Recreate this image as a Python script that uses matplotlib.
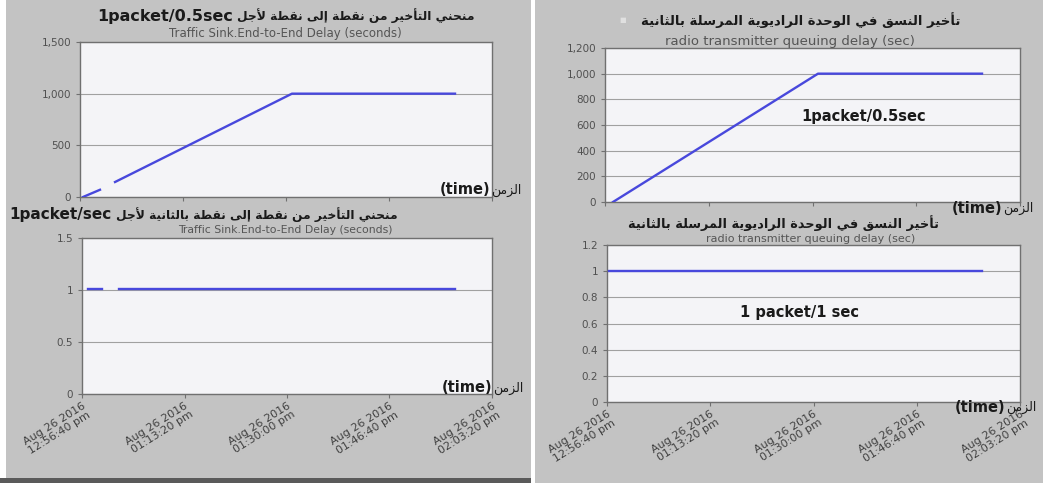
import numpy as np
import matplotlib
matplotlib.use("Agg")
import matplotlib.pyplot as plt
import matplotlib.dates as mdates
from matplotlib.patches import Rectangle
from matplotlib.ticker import FuncFormatter
from datetime import datetime

plt.rcParams["font.family"] = ["DejaVu Sans"]

W, H = 1043, 483


def t(s):
    return datetime.strptime("2016-08-26 " + s, "%Y-%m-%d %H:%M:%S")


# x ticks (same for all four charts)
tick_times = ["12:56:40", "13:13:20", "13:30:00", "13:46:40", "14:03:20"]
tick_labels = ["Aug 26 2016\n12:56:40 pm", "Aug 26 2016\n01:13:20 pm",
               "Aug 26 2016\n01:30:00 pm", "Aug 26 2016\n01:46:40 pm",
               "Aug 26 2016\n02:03:20 pm"]

# end-to-end delay, 1packet/0.5sec (nan = gap)
e2e_fast_t = ["12:57:09", "12:59:54", "13:01:00", "13:02:20", "13:30:58", "13:57:21"]
e2e_fast_v = [0, 70, np.nan, 145, 1000, 1000]
# end-to-end delay, 1packet/sec
e2e_slow_t = ["12:57:38", "12:59:54", "13:01:00", "13:02:39", "13:57:21"]
e2e_slow_v = [1.01, 1.01, np.nan, 1.01, 1.01]
# radio transmitter queuing delay, 1packet/0.5sec
radio_fast_t = ["12:57:57", "13:30:53", "13:57:14"]
radio_fast_v = [0, 1000, 1000]
# radio transmitter queuing delay, 1 packet/1 sec
radio_slow_t = ["12:56:59", "13:57:14"]
radio_slow_v = [1, 1]

# ---- tiny arabic shaper (matplotlib has no complex text layout) ----
DUAL = {"ب": 0xFE8F, "ت": 0xFE95, "ث": 0xFE99, "ج": 0xFE9D, "ح": 0xFEA1,
        "خ": 0xFEA5, "س": 0xFEB1, "ط": 0xFEC1, "ف": 0xFED1, "ق": 0xFED5,
        "ل": 0xFEDD, "م": 0xFEE1, "ن": 0xFEE5, "ه": 0xFEE9, "ي": 0xFEF1}
RIGHT = {"ا": 0xFE8D, "أ": 0xFE83, "إ": 0xFE87, "ة": 0xFE93, "د": 0xFEA9,
         "ر": 0xFEAD, "ز": 0xFEAF, "و": 0xFEED, "ى": 0xFEEF}
LAMALEF = {"ا": 0xFEFB, "أ": 0xFEF7, "إ": 0xFEF9}


def shape(word):
    toks = []
    i = 0
    while i < len(word):
        if word[i] == "ل" and i + 1 < len(word) and word[i + 1] in LAMALEF:
            toks.append(("LA", LAMALEF[word[i + 1]]))
            i += 2
        else:
            toks.append(word[i])
            i += 1
    out = []
    for k, c in enumerate(toks):
        prev = toks[k - 1] if k > 0 else None
        nxt = toks[k + 1] if k + 1 < len(toks) else None
        jp = isinstance(prev, str) and prev in DUAL
        if isinstance(c, tuple):
            out.append(chr(c[1] + jp))
        elif c in DUAL:
            jn = nxt is not None and (isinstance(nxt, tuple) or nxt in DUAL or nxt in RIGHT)
            out.append(chr(DUAL[c] + [[0, 2], [1, 3]][jp][jn]))
        elif c in RIGHT:
            out.append(chr(RIGHT[c] + jp))
        else:
            out.append(c)
    return "".join(out)


def ar(text):
    return " ".join(shape(w) for w in text.split(" "))[::-1]


fig = plt.figure(figsize=(W / 100, H / 100), dpi=100)
fig.patch.set_facecolor("white")

gray = "#c3c3c3"
fig.add_artist(Rectangle((6 / W, 3 / H), 525 / W, 1 - 3 / H, transform=fig.transFigure,
                         facecolor=gray, edgecolor="none", zorder=0))
fig.add_artist(Rectangle((0, 0), 531 / W, 5 / H, transform=fig.transFigure,
                         facecolor="#5a5a5a", edgecolor="none", zorder=0))
fig.add_artist(Rectangle((535 / W, 0), 508 / W, 1, transform=fig.transFigure,
                         facecolor=gray, edgecolor="none", zorder=0))


def px_axes(x0, y0, x1, y1):
    return fig.add_axes([x0 / W, 1 - y1 / H, (x1 - x0) / W, (y1 - y0) / H])


def ftext(x, y, s, **kw):
    fig.text(x / W, 1 - y / H, s, **kw)


def setup(ax, times, vals, yticks, show_x):
    ax.set_facecolor("#f4f4f7")
    ax.plot([t(s) for s in times], vals, color="#4848dc", lw=1.7, zorder=3)
    ax.set_ylim(yticks[0], yticks[-1])
    ax.set_yticks(yticks)
    ax.yaxis.set_major_formatter(FuncFormatter(lambda v, p: "{:,g}".format(v)))
    ax.grid(axis="y", color="#a0a0a0", lw=0.8)
    ax.set_axisbelow(True)
    ax.set_xlim(t(tick_times[0]), t(tick_times[-1]))
    ax.set_xticks([mdates.date2num(t(s)) for s in tick_times])
    if show_x:
        ax.set_xticklabels(tick_labels, rotation=32, ha="right", va="top",
                           rotation_mode="anchor", fontsize=8, color="#404040",
                           multialignment="center", linespacing=1.0)
        ax.tick_params(axis="x", pad=2)
    else:
        ax.set_xticklabels([])
        ax.tick_params(axis="x", length=0)
    ax.tick_params(axis="y", labelsize=7.5, labelcolor="#505050", length=3, color="#707070")
    ax.tick_params(axis="x", color="#707070", length=3)
    for sp in ax.spines.values():
        sp.set_color("#707070")
        sp.set_linewidth(1.0)


ax1 = px_axes(80, 42, 492, 197)
setup(ax1, e2e_fast_t, e2e_fast_v, [0, 500, 1000, 1500], False)
ax2 = px_axes(82, 238, 492, 394)
setup(ax2, e2e_slow_t, e2e_slow_v, [0, 0.5, 1, 1.5], True)
ax3 = px_axes(605, 48, 1020, 202)
setup(ax3, radio_fast_t, radio_fast_v, [0, 200, 400, 600, 800, 1000, 1200], False)
ax4 = px_axes(607, 245, 1020, 402)
setup(ax4, radio_slow_t, radio_slow_v, [0, 0.2, 0.4, 0.6, 0.8, 1, 1.2], True)

title_e2e_fast = "منحني التأخير من نقطة إلى نقطة لأجل"
title_e2e_slow = "منحني التأخير من نقطة إلى نقطة بالثانية لأجل"
title_radio = "تأخير النسق في الوحدة الراديوية المرسلة بالثانية"
sub_e2e = "Traffic Sink.End-to-End Delay (seconds)"
sub_radio = "radio transmitter queuing delay (sec)"
time_ar = "الزمن"

dark = "#1a1a1a"
sub_col = "#555555"
# left top titles
ftext(233, 16, "1packet/0.5sec", ha="right", va="center", fontsize=11.5,
      fontweight="bold", color=dark)
ftext(237, 16, ar(title_e2e_fast), ha="left", va="center", fontsize=8.8,
      fontweight="bold", color=dark)
ftext(285, 33, sub_e2e, ha="center", va="center", fontsize=8.5, color=sub_col)
# left bottom titles
ftext(112, 215, "1packet/sec", ha="right", va="center", fontsize=11,
      fontweight="bold", color=dark)
ftext(116, 215, ar(title_e2e_slow), ha="left", va="center", fontsize=8.8,
      fontweight="bold", color=dark)
ftext(285, 230, sub_e2e, ha="center", va="center", fontsize=7.8, color=sub_col)
# right titles
ftext(623, 20, "■", ha="center", va="center", fontsize=5, color="#e0e0e0")
ftext(801, 20, ar(title_radio), ha="center", va="center", fontsize=9.5,
      fontweight="bold", color=dark)
ftext(790, 42, sub_radio, ha="center", va="center", fontsize=9.5, color=sub_col)
ftext(783, 223, ar(title_radio), ha="center", va="center", fontsize=9.3,
      fontweight="bold", color=dark)
ftext(811, 238.5, sub_radio, ha="center", va="center", fontsize=8, color=sub_col)

# (time) axis captions
for x, y in [(490, 190), (492, 388), (1002, 208), (1005, 407)]:
    ftext(x, y, "(time)", ha="right", va="center", fontsize=10.5, fontweight="bold", color=dark)
    ftext(x + 1, y, ar(time_ar), ha="left", va="center", fontsize=9, color=dark)

# in-plot labels
ftext(864, 117, "1packet/0.5sec", ha="center", va="center", fontsize=10.5,
      fontweight="bold", color=dark)
ftext(800, 313, "1 packet/1 sec", ha="center", va="center", fontsize=10.5,
      fontweight="bold", color=dark)

fig.savefig("out.png", dpi=100, facecolor=fig.get_facecolor())
